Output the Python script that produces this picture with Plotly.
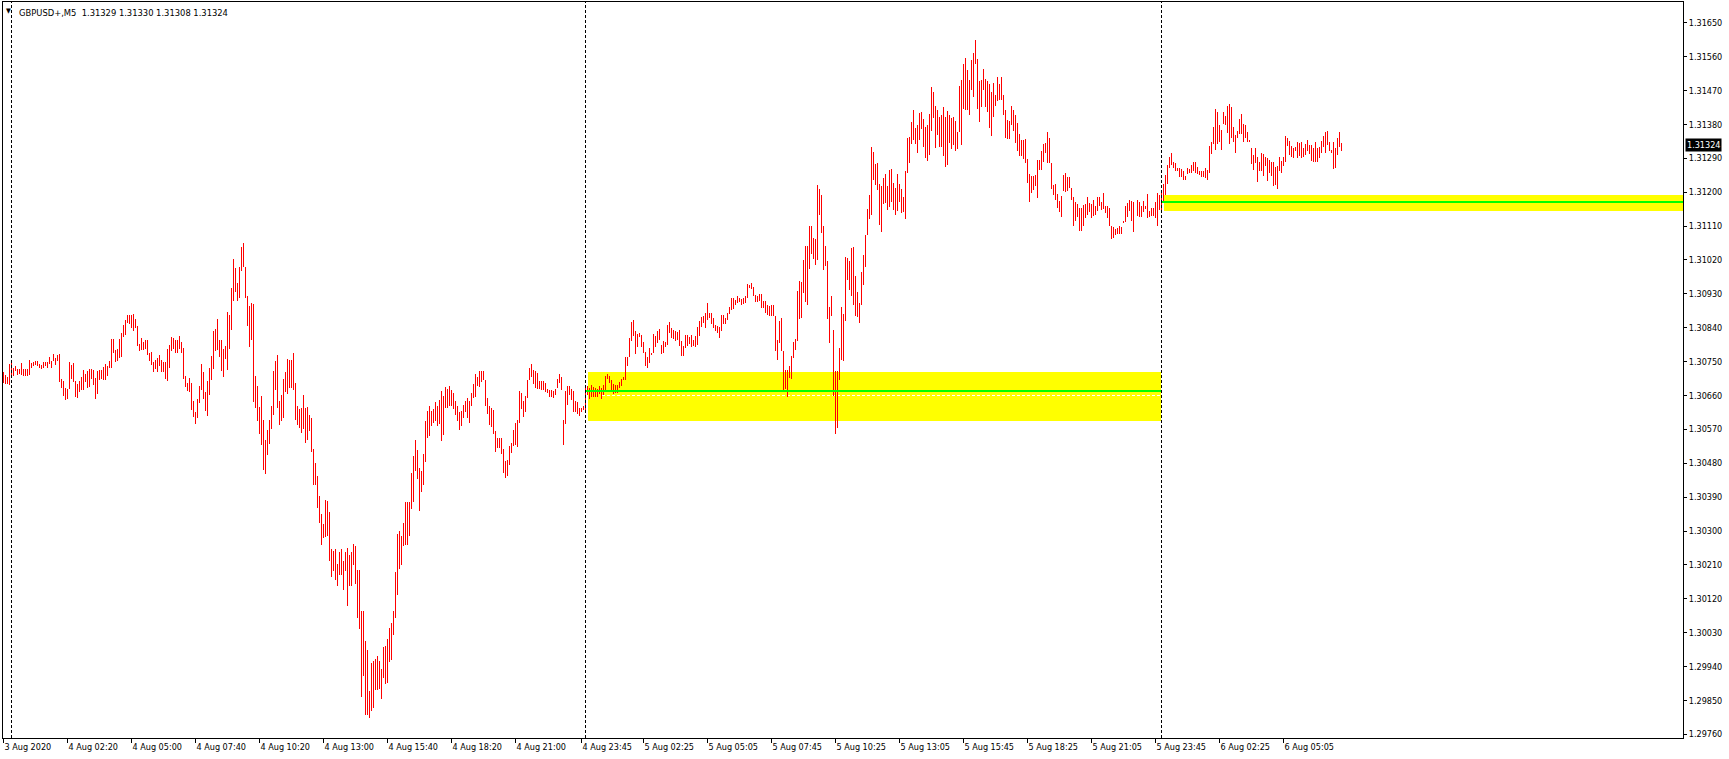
import plotly.graph_objects as go

SYMBOL = "GBPUSD+,M5"
LAST_OHLC = [1.31329, 1.31330, 1.31308, 1.31324]
LAST_PRICE = 1.31324

HIGH = [
1.30722, 1.30714, 1.30708, 1.30744, 1.30748, 1.30732, 1.30738, 1.30729, 1.30730, 1.30745,
1.30730, 1.30730, 1.30730, 1.30753, 1.30747, 1.30750, 1.30752, 1.30752, 1.30744, 1.30742,
1.30748, 1.30748, 1.30748, 1.30761, 1.30752, 1.30770, 1.30760, 1.30767, 1.30770, 1.30703,
1.30698, 1.30679, 1.30677, 1.30748, 1.30742, 1.30745, 1.30698, 1.30691, 1.30698, 1.30708,
1.30728, 1.30717, 1.30725, 1.30729, 1.30729, 1.30728, 1.30706, 1.30725, 1.30728, 1.30728,
1.30735, 1.30743, 1.30737, 1.30752, 1.30810, 1.30810, 1.30781, 1.30783, 1.30810, 1.30825,
1.30847, 1.30860, 1.30875, 1.30874, 1.30875, 1.30876, 1.30862, 1.30844, 1.30797, 1.30812,
1.30801, 1.30807, 1.30807, 1.30774, 1.30775, 1.30748, 1.30754, 1.30760, 1.30767, 1.30754,
1.30748, 1.30748, 1.30783, 1.30794, 1.30814, 1.30812, 1.30807, 1.30807, 1.30818, 1.30802,
1.30786, 1.30712, 1.30693, 1.30706, 1.30692, 1.30645, 1.30615, 1.30650, 1.30685, 1.30743,
1.30721, 1.30669, 1.30698, 1.30733, 1.30764, 1.30831, 1.30837, 1.30863, 1.30807, 1.30807,
1.30783, 1.30791, 1.30881, 1.30875, 1.30945, 1.31022, 1.30998, 1.30960, 1.31001, 1.31055,
1.31066, 1.31000, 1.30924, 1.30898, 1.30906, 1.30903, 1.30712, 1.30685, 1.30630, 1.30659,
1.30595, 1.30543, 1.30568, 1.30594, 1.30632, 1.30725, 1.30752, 1.30767, 1.30645, 1.30661,
1.30704, 1.30722, 1.30757, 1.30754, 1.30753, 1.30773, 1.30693, 1.30632, 1.30624, 1.30627,
1.30661, 1.30626, 1.30630, 1.30608, 1.30599, 1.30518, 1.30480, 1.30446, 1.30393, 1.30345,
1.30319, 1.30382, 1.30380, 1.30350, 1.30252, 1.30248, 1.30252, 1.30213, 1.30245, 1.30252,
1.30221, 1.30243, 1.30255, 1.30236, 1.30243, 1.30265, 1.30261, 1.30197, 1.30197, 1.30088,
1.30088, 1.30007, 1.29985, 1.29876, 1.29949, 1.29956, 1.29961, 1.29967, 1.29954, 1.29933,
1.29991, 1.29994, 1.30014, 1.30042, 1.30055, 1.30088, 1.30190, 1.30293, 1.30301, 1.30287,
1.30321, 1.30378, 1.30377, 1.30377, 1.30454, 1.30498, 1.30542, 1.30514, 1.30467, 1.30460,
1.30504, 1.30591, 1.30620, 1.30631, 1.30619, 1.30625, 1.30642, 1.30631, 1.30647, 1.30671,
1.30659, 1.30682, 1.30677, 1.30686, 1.30675, 1.30666, 1.30644, 1.30633, 1.30615, 1.30619,
1.30635, 1.30644, 1.30653, 1.30644, 1.30666, 1.30690, 1.30717, 1.30709, 1.30724, 1.30725,
1.30725, 1.30700, 1.30653, 1.30632, 1.30626, 1.30622, 1.30566, 1.30548, 1.30548, 1.30548,
1.30518, 1.30485, 1.30489, 1.30525, 1.30533, 1.30569, 1.30586, 1.30595, 1.30672, 1.30666,
1.30644, 1.30659, 1.30702, 1.30732, 1.30744, 1.30728, 1.30725, 1.30719, 1.30699, 1.30699,
1.30699, 1.30693, 1.30678, 1.30675, 1.30675, 1.30672, 1.30678, 1.30704, 1.30717, 1.30710,
1.30595, 1.30671, 1.30684, 1.30686, 1.30678, 1.30671, 1.30644, 1.30642, 1.30628, 1.30626,
1.30631, 1.30686, 1.30684, 1.30681, 1.30688, 1.30682, 1.30681, 1.30678, 1.30686, 1.30680,
1.30687, 1.30713, 1.30717, 1.30713, 1.30702, 1.30690, 1.30688, 1.30688, 1.30695, 1.30704,
1.30710, 1.30761, 1.30762, 1.30812, 1.30855, 1.30861, 1.30832, 1.30823, 1.30825, 1.30821,
1.30803, 1.30775, 1.30763, 1.30786, 1.30774, 1.30824, 1.30817, 1.30832, 1.30837, 1.30794,
1.30805, 1.30802, 1.30848, 1.30856, 1.30839, 1.30834, 1.30830, 1.30828, 1.30834, 1.30805,
1.30792, 1.30821, 1.30821, 1.30814, 1.30821, 1.30808, 1.30817, 1.30843, 1.30857, 1.30868,
1.30872, 1.30879, 1.30905, 1.30879, 1.30879, 1.30865, 1.30848, 1.30845, 1.30841, 1.30874,
1.30873, 1.30865, 1.30879, 1.30894, 1.30920, 1.30920, 1.30914, 1.30923, 1.30920, 1.30916,
1.30920, 1.30925, 1.30957, 1.30954, 1.30958, 1.30947, 1.30926, 1.30923, 1.30929, 1.30929,
1.30910, 1.30911, 1.30901, 1.30898, 1.30899, 1.30901, 1.30872, 1.30808, 1.30858, 1.30867,
1.30779, 1.30728, 1.30728, 1.30739, 1.30765, 1.30801, 1.30811, 1.30938, 1.30963, 1.30961,
1.31019, 1.31057, 1.31057, 1.31109, 1.31109, 1.31078, 1.31075, 1.31220, 1.31208, 1.31193,
1.31109, 1.31056, 1.31018, 1.30896, 1.30923, 1.30834, 1.30724, 1.30724, 1.30786, 1.30894,
1.30877, 1.31027, 1.31025, 1.31016, 1.31051, 1.31054, 1.30976, 1.30935, 1.30905, 1.30987,
1.31033, 1.31087, 1.31156, 1.31193, 1.31319, 1.31306, 1.31276, 1.31277, 1.31222, 1.31215,
1.31237, 1.31249, 1.31215, 1.31259, 1.31262, 1.31224, 1.31212, 1.31249, 1.31221, 1.31208,
1.31186, 1.31255, 1.31345, 1.31346, 1.31386, 1.31419, 1.31370, 1.31377, 1.31410, 1.31412,
1.31394, 1.31374, 1.31379, 1.31408, 1.31478, 1.31466, 1.31429, 1.31417, 1.31399, 1.31405,
1.31425, 1.31399, 1.31416, 1.31405, 1.31396, 1.31399, 1.31388, 1.31361, 1.31481, 1.31497,
1.31540, 1.31556, 1.31525, 1.31498, 1.31550, 1.31569, 1.31604, 1.31554, 1.31496, 1.31498,
1.31527, 1.31501, 1.31496, 1.31487, 1.31466, 1.31489, 1.31457, 1.31507, 1.31488, 1.31507,
1.31457, 1.31419, 1.31392, 1.31390, 1.31429, 1.31418, 1.31405, 1.31383, 1.31355, 1.31339,
1.31339, 1.31341, 1.31288, 1.31248, 1.31243, 1.31243, 1.31246, 1.31286, 1.31286, 1.31308,
1.31328, 1.31330, 1.31359, 1.31345, 1.31277, 1.31219, 1.31221, 1.31194, 1.31177, 1.31190,
1.31246, 1.31250, 1.31241, 1.31239, 1.31210, 1.31186, 1.31173, 1.31168, 1.31157, 1.31157,
1.31166, 1.31169, 1.31186, 1.31171, 1.31169, 1.31179, 1.31163, 1.31186, 1.31188, 1.31175,
1.31199, 1.31163, 1.31163, 1.31159, 1.31111, 1.31107, 1.31102, 1.31106, 1.31109, 1.31107,
1.31124, 1.31163, 1.31172, 1.31179, 1.31177, 1.31175, 1.31132, 1.31179, 1.31175, 1.31162,
1.31177, 1.31163, 1.31195, 1.31150, 1.31157, 1.31157, 1.31175, 1.31197, 1.31193, 1.31197,
1.31221, 1.31246, 1.31272, 1.31293, 1.31305, 1.31279, 1.31277, 1.31265, 1.31263, 1.31262,
1.31255, 1.31243, 1.31265, 1.31261, 1.31272, 1.31281, 1.31279, 1.31268, 1.31257, 1.31256,
1.31256, 1.31265, 1.31259, 1.31323, 1.31333, 1.31374, 1.31421, 1.31414, 1.31379, 1.31365,
1.31412, 1.31401, 1.31429, 1.31434, 1.31425, 1.31374, 1.31352, 1.31363, 1.31394, 1.31408,
1.31381, 1.31377, 1.31359, 1.31339, 1.31317, 1.31299, 1.31317, 1.31294, 1.31281, 1.31305,
1.31302, 1.31294, 1.31292, 1.31286, 1.31281, 1.31281, 1.31266, 1.31270, 1.31293, 1.31283,
1.31293, 1.31349, 1.31345, 1.31337, 1.31323, 1.31318, 1.31321, 1.31333, 1.31330, 1.31333,
1.31317, 1.31327, 1.31339, 1.31325, 1.31324, 1.31317, 1.31332, 1.31318, 1.31321, 1.31337,
1.31349, 1.31361, 1.31363, 1.31334, 1.31312, 1.31334, 1.31317, 1.31343, 1.31361, 1.31330,
]

LOW = [
1.30694, 1.30690, 1.30690, 1.30688, 1.30712, 1.30712, 1.30726, 1.30715, 1.30718, 1.30715,
1.30713, 1.30713, 1.30713, 1.30715, 1.30734, 1.30739, 1.30740, 1.30737, 1.30734, 1.30731,
1.30734, 1.30737, 1.30734, 1.30744, 1.30734, 1.30752, 1.30742, 1.30752, 1.30697, 1.30681,
1.30659, 1.30648, 1.30650, 1.30677, 1.30704, 1.30697, 1.30656, 1.30653, 1.30668, 1.30675,
1.30675, 1.30697, 1.30680, 1.30683, 1.30703, 1.30688, 1.30651, 1.30664, 1.30701, 1.30703,
1.30701, 1.30701, 1.30712, 1.30734, 1.30734, 1.30772, 1.30749, 1.30752, 1.30760, 1.30762,
1.30814, 1.30820, 1.30852, 1.30850, 1.30839, 1.30832, 1.30840, 1.30792, 1.30779, 1.30781,
1.30781, 1.30783, 1.30767, 1.30752, 1.30741, 1.30722, 1.30731, 1.30723, 1.30738, 1.30723,
1.30722, 1.30705, 1.30698, 1.30734, 1.30778, 1.30783, 1.30772, 1.30774, 1.30783, 1.30772,
1.30704, 1.30683, 1.30671, 1.30670, 1.30621, 1.30604, 1.30585, 1.30601, 1.30641, 1.30675,
1.30651, 1.30620, 1.30606, 1.30660, 1.30700, 1.30729, 1.30778, 1.30780, 1.30762, 1.30726,
1.30710, 1.30756, 1.30728, 1.30783, 1.30834, 1.30912, 1.30935, 1.30911, 1.30918, 1.30991,
1.31000, 1.30919, 1.30845, 1.30790, 1.30808, 1.30643, 1.30628, 1.30591, 1.30558, 1.30529,
1.30462, 1.30452, 1.30502, 1.30532, 1.30571, 1.30608, 1.30675, 1.30628, 1.30582, 1.30592,
1.30599, 1.30668, 1.30664, 1.30679, 1.30679, 1.30675, 1.30595, 1.30582, 1.30574, 1.30559,
1.30570, 1.30535, 1.30543, 1.30565, 1.30511, 1.30421, 1.30421, 1.30360, 1.30322, 1.30263,
1.30281, 1.30283, 1.30287, 1.30219, 1.30179, 1.30195, 1.30170, 1.30155, 1.30182, 1.30183,
1.30142, 1.30193, 1.30102, 1.30153, 1.30153, 1.30210, 1.30159, 1.30070, 1.30040, 1.29858,
1.29914, 1.29812, 1.29812, 1.29803, 1.29821, 1.29830, 1.29878, 1.29878, 1.29880, 1.29854,
1.29909, 1.29893, 1.29896, 1.29951, 1.29958, 1.30024, 1.30069, 1.30131, 1.30199, 1.30210,
1.30261, 1.30263, 1.30262, 1.30286, 1.30358, 1.30376, 1.30460, 1.30438, 1.30352, 1.30403,
1.30421, 1.30482, 1.30548, 1.30551, 1.30578, 1.30586, 1.30591, 1.30578, 1.30585, 1.30538,
1.30554, 1.30626, 1.30628, 1.30632, 1.30631, 1.30624, 1.30609, 1.30593, 1.30569, 1.30580,
1.30601, 1.30617, 1.30601, 1.30588, 1.30631, 1.30653, 1.30655, 1.30684, 1.30682, 1.30697,
1.30702, 1.30631, 1.30610, 1.30582, 1.30575, 1.30557, 1.30511, 1.30520, 1.30520, 1.30505,
1.30454, 1.30442, 1.30447, 1.30474, 1.30507, 1.30527, 1.30529, 1.30522, 1.30588, 1.30624,
1.30604, 1.30615, 1.30653, 1.30702, 1.30708, 1.30691, 1.30679, 1.30678, 1.30677, 1.30675,
1.30675, 1.30668, 1.30666, 1.30657, 1.30657, 1.30653, 1.30660, 1.30679, 1.30693, 1.30675,
1.30529, 1.30585, 1.30635, 1.30662, 1.30648, 1.30615, 1.30617, 1.30611, 1.30606, 1.30617,
1.30622, 1.30620, 1.30662, 1.30651, 1.30657, 1.30657, 1.30657, 1.30657, 1.30664, 1.30651,
1.30660, 1.30673, 1.30703, 1.30693, 1.30675, 1.30664, 1.30666, 1.30666, 1.30679, 1.30684,
1.30702, 1.30702, 1.30739, 1.30762, 1.30805, 1.30817, 1.30770, 1.30790, 1.30815, 1.30790,
1.30774, 1.30739, 1.30734, 1.30746, 1.30768, 1.30772, 1.30790, 1.30799, 1.30808, 1.30770,
1.30772, 1.30790, 1.30794, 1.30825, 1.30812, 1.30809, 1.30805, 1.30808, 1.30792, 1.30764,
1.30764, 1.30786, 1.30792, 1.30796, 1.30790, 1.30792, 1.30788, 1.30795, 1.30819, 1.30843,
1.30852, 1.30839, 1.30861, 1.30865, 1.30850, 1.30839, 1.30830, 1.30826, 1.30812, 1.30830,
1.30850, 1.30850, 1.30861, 1.30876, 1.30888, 1.30890, 1.30899, 1.30905, 1.30907, 1.30899,
1.30903, 1.30905, 1.30919, 1.30945, 1.30943, 1.30923, 1.30907, 1.30907, 1.30912, 1.30892,
1.30892, 1.30879, 1.30874, 1.30870, 1.30872, 1.30870, 1.30777, 1.30753, 1.30799, 1.30777,
1.30675, 1.30677, 1.30655, 1.30706, 1.30704, 1.30759, 1.30780, 1.30804, 1.30864, 1.30865,
1.30932, 1.30907, 1.30899, 1.30996, 1.31036, 1.31023, 1.31006, 1.31020, 1.31140, 1.31091,
1.30992, 1.31003, 1.30864, 1.30799, 1.30870, 1.30658, 1.30558, 1.30573, 1.30702, 1.30755,
1.30752, 1.30857, 1.30967, 1.30941, 1.30925, 1.30901, 1.30870, 1.30868, 1.30852, 1.30899,
1.30954, 1.31000, 1.31085, 1.31129, 1.31140, 1.31233, 1.31218, 1.31206, 1.31113, 1.31093,
1.31169, 1.31171, 1.31153, 1.31160, 1.31173, 1.31153, 1.31138, 1.31149, 1.31175, 1.31144,
1.31146, 1.31129, 1.31250, 1.31277, 1.31328, 1.31339, 1.31328, 1.31304, 1.31339, 1.31367,
1.31321, 1.31290, 1.31284, 1.31299, 1.31363, 1.31396, 1.31317, 1.31352, 1.31319, 1.31319,
1.31295, 1.31268, 1.31273, 1.31330, 1.31315, 1.31326, 1.31308, 1.31315, 1.31361, 1.31326,
1.31421, 1.31417, 1.31419, 1.31405, 1.31472, 1.31454, 1.31540, 1.31421, 1.31385, 1.31426,
1.31470, 1.31425, 1.31412, 1.31370, 1.31348, 1.31399, 1.31428, 1.31443, 1.31445, 1.31445,
1.31405, 1.31343, 1.31342, 1.31341, 1.31377, 1.31363, 1.31330, 1.31308, 1.31297, 1.31297,
1.31288, 1.31277, 1.31225, 1.31175, 1.31197, 1.31206, 1.31215, 1.31184, 1.31259, 1.31259,
1.31279, 1.31303, 1.31277, 1.31277, 1.31208, 1.31193, 1.31179, 1.31157, 1.31147, 1.31133,
1.31202, 1.31200, 1.31203, 1.31210, 1.31178, 1.31111, 1.31124, 1.31135, 1.31098, 1.31098,
1.31111, 1.31132, 1.31140, 1.31147, 1.31131, 1.31137, 1.31140, 1.31151, 1.31163, 1.31153,
1.31155, 1.31144, 1.31132, 1.31109, 1.31075, 1.31078, 1.31085, 1.31089, 1.31089, 1.31089,
1.31117, 1.31122, 1.31135, 1.31151, 1.31124, 1.31093, 1.31130, 1.31137, 1.31133, 1.31135,
1.31148, 1.31155, 1.31131, 1.31135, 1.31137, 1.31137, 1.31132, 1.31109, 1.31153, 1.31150,
1.31171, 1.31193, 1.31221, 1.31263, 1.31272, 1.31265, 1.31257, 1.31255, 1.31241, 1.31239,
1.31232, 1.31231, 1.31248, 1.31250, 1.31252, 1.31257, 1.31250, 1.31248, 1.31246, 1.31241,
1.31240, 1.31237, 1.31232, 1.31250, 1.31301, 1.31327, 1.31312, 1.31327, 1.31333, 1.31312,
1.31380, 1.31377, 1.31358, 1.31328, 1.31343, 1.31332, 1.31305, 1.31345, 1.31354, 1.31355,
1.31334, 1.31345, 1.31334, 1.31332, 1.31274, 1.31259, 1.31277, 1.31228, 1.31255, 1.31255,
1.31244, 1.31270, 1.31230, 1.31250, 1.31243, 1.31217, 1.31218, 1.31208, 1.31257, 1.31252,
1.31270, 1.31279, 1.31323, 1.31299, 1.31294, 1.31292, 1.31308, 1.31292, 1.31296, 1.31292,
1.31294, 1.31299, 1.31309, 1.31301, 1.31284, 1.31281, 1.31281, 1.31281, 1.31292, 1.31303,
1.31321, 1.31303, 1.31325, 1.31308, 1.31303, 1.31261, 1.31264, 1.31299, 1.31321, 1.31308,
]

XTICK_POS = [0, 32, 64, 96, 128, 160, 192, 224, 256, 289, 320, 352, 384, 416, 448,
             480, 512, 544, 576, 608, 640]
XTICK_TEXT = ["3 Aug 2020", "4 Aug 02:20", "4 Aug 05:00", "4 Aug 07:40", "4 Aug 10:20",
              "4 Aug 13:00", "4 Aug 15:40", "4 Aug 18:20", "4 Aug 21:00", "4 Aug 23:45",
              "5 Aug 02:25", "5 Aug 05:05", "5 Aug 07:45", "5 Aug 10:25", "5 Aug 13:05",
              "5 Aug 15:45", "5 Aug 18:25", "5 Aug 21:05", "5 Aug 23:45", "6 Aug 02:25",
              "6 Aug 05:05"]
YTICK_VALS = [1.29760, 1.29850, 1.29940, 1.30030, 1.30120, 1.30210, 1.30300, 1.30390,
              1.30480, 1.30570, 1.30660, 1.30750, 1.30840, 1.30930, 1.31020, 1.31110,
              1.31200, 1.31290, 1.31380, 1.31470, 1.31560, 1.31650]
SEPARATORS = [4, 291, 579]

ZONE_X0 = [292, 580]
ZONE_X1 = [578.5, 900]
ZONE_TOP = [1.30723, 1.31192]
ZONE_BOTTOM = [1.30592, 1.31151]
ZONE_LEVEL = [1.30673, 1.31175]
DASH_LEVEL = 1.30661
DASH_X = [299, 578.5]

n = min(len(HIGH), len(LOW))
xs, ys = [], []
for i in range(n):
    xs += [i, i, None]
    ys += [LOW[i], HIGH[i], None]

FONT = "DejaVu Sans Condensed, DejaVu Sans, sans-serif"

fig = go.Figure()
fig.add_trace(go.Scatter(x=xs, y=ys, mode="lines",
                         line=dict(color="#ff0000", width=1),
                         hoverinfo="skip", showlegend=False))

shapes = []
for x0, x1, top, bot in zip(ZONE_X0, ZONE_X1, ZONE_TOP, ZONE_BOTTOM):
    shapes.append(dict(type="rect", xref="x", yref="y", x0=x0, x1=x1, y0=bot, y1=top,
                       fillcolor="#ffff00", line=dict(width=0), layer="below"))
shapes.append(dict(type="line", xref="x", yref="y", x0=DASH_X[0], x1=DASH_X[1],
                   y0=DASH_LEVEL, y1=DASH_LEVEL,
                   line=dict(color="white", width=1, dash="3px,2px"), layer="below"))
for x0, x1, lvl in zip(ZONE_X0, ZONE_X1, ZONE_LEVEL):
    shapes.append(dict(type="line", xref="x", yref="y", x0=x0 - 1, x1=x1, y0=lvl, y1=lvl,
                       line=dict(color="#00ff00", width=2), layer="above"))
for s in SEPARATORS:
    shapes.append(dict(type="line", xref="x", yref="paper", x0=s, x1=s, y0=0, y1=1,
                       line=dict(color="black", width=1, dash="3px,2px"), layer="above"))

title_text = SYMBOL + "\u00a0\u00a0" + " ".join(f"{v:.5f}" for v in LAST_OHLC)

annotations = [
    dict(xref="paper", yref="paper", x=0, y=1, xanchor="left", yanchor="top",
         xshift=1, yshift=-3, text="\u25BC", showarrow=False,
         font=dict(family=FONT, size=7, color="black")),
    dict(xref="paper", yref="paper", x=0, y=1, xanchor="left", yanchor="top",
         xshift=14, yshift=-3, text=title_text, showarrow=False,
         font=dict(family=FONT, size=9.3, color="black")),
    dict(xref="paper", yref="y", x=1, y=LAST_PRICE, xanchor="left", yanchor="middle",
         xshift=2, text=f"{LAST_PRICE:.5f}", showarrow=False, bgcolor="black",
         borderpad=1, font=dict(family=FONT, size=9, color="white")),
]

fig.update_layout(
    width=1729, height=759,
    margin=dict(l=3, r=46, t=2, b=21),
    paper_bgcolor="white", plot_bgcolor="white",
    shapes=shapes, annotations=annotations,
    showlegend=False,
    font=dict(family=FONT, size=9, color="black"),
    xaxis=dict(range=[-0.25, 839.75], tickmode="array", tickvals=XTICK_POS,
               ticktext=XTICK_TEXT, ticks="outside", ticklen=4, tickcolor="black",
               tickwidth=1, ticklabelposition="outside right",
               showgrid=False, zeroline=False, showline=True, mirror=True,
               linecolor="black", linewidth=1,
               tickfont=dict(family=FONT, size=9, color="black")),
    yaxis=dict(range=[1.297502, 1.317050], side="right", tickmode="array",
               tickvals=YTICK_VALS, ticktext=[f"{v:.5f}" for v in YTICK_VALS],
               ticks="outside", ticklen=3, tickcolor="black", tickwidth=1,
               showgrid=False, zeroline=False, showline=True, mirror=True,
               linecolor="black", linewidth=1,
               tickfont=dict(family=FONT, size=9, color="black")),
)

POST = (
    "document.body.style.margin='0px';document.body.style.overflow='hidden';"
    "document.querySelectorAll('.scatterlayer path, .shapelayer path, .layer-below path')"
    ".forEach(function(p){p.setAttribute('shape-rendering','crispEdges');});"
)

fig.write_html("out.html", config={"displayModeBar": False}, post_script=POST)
